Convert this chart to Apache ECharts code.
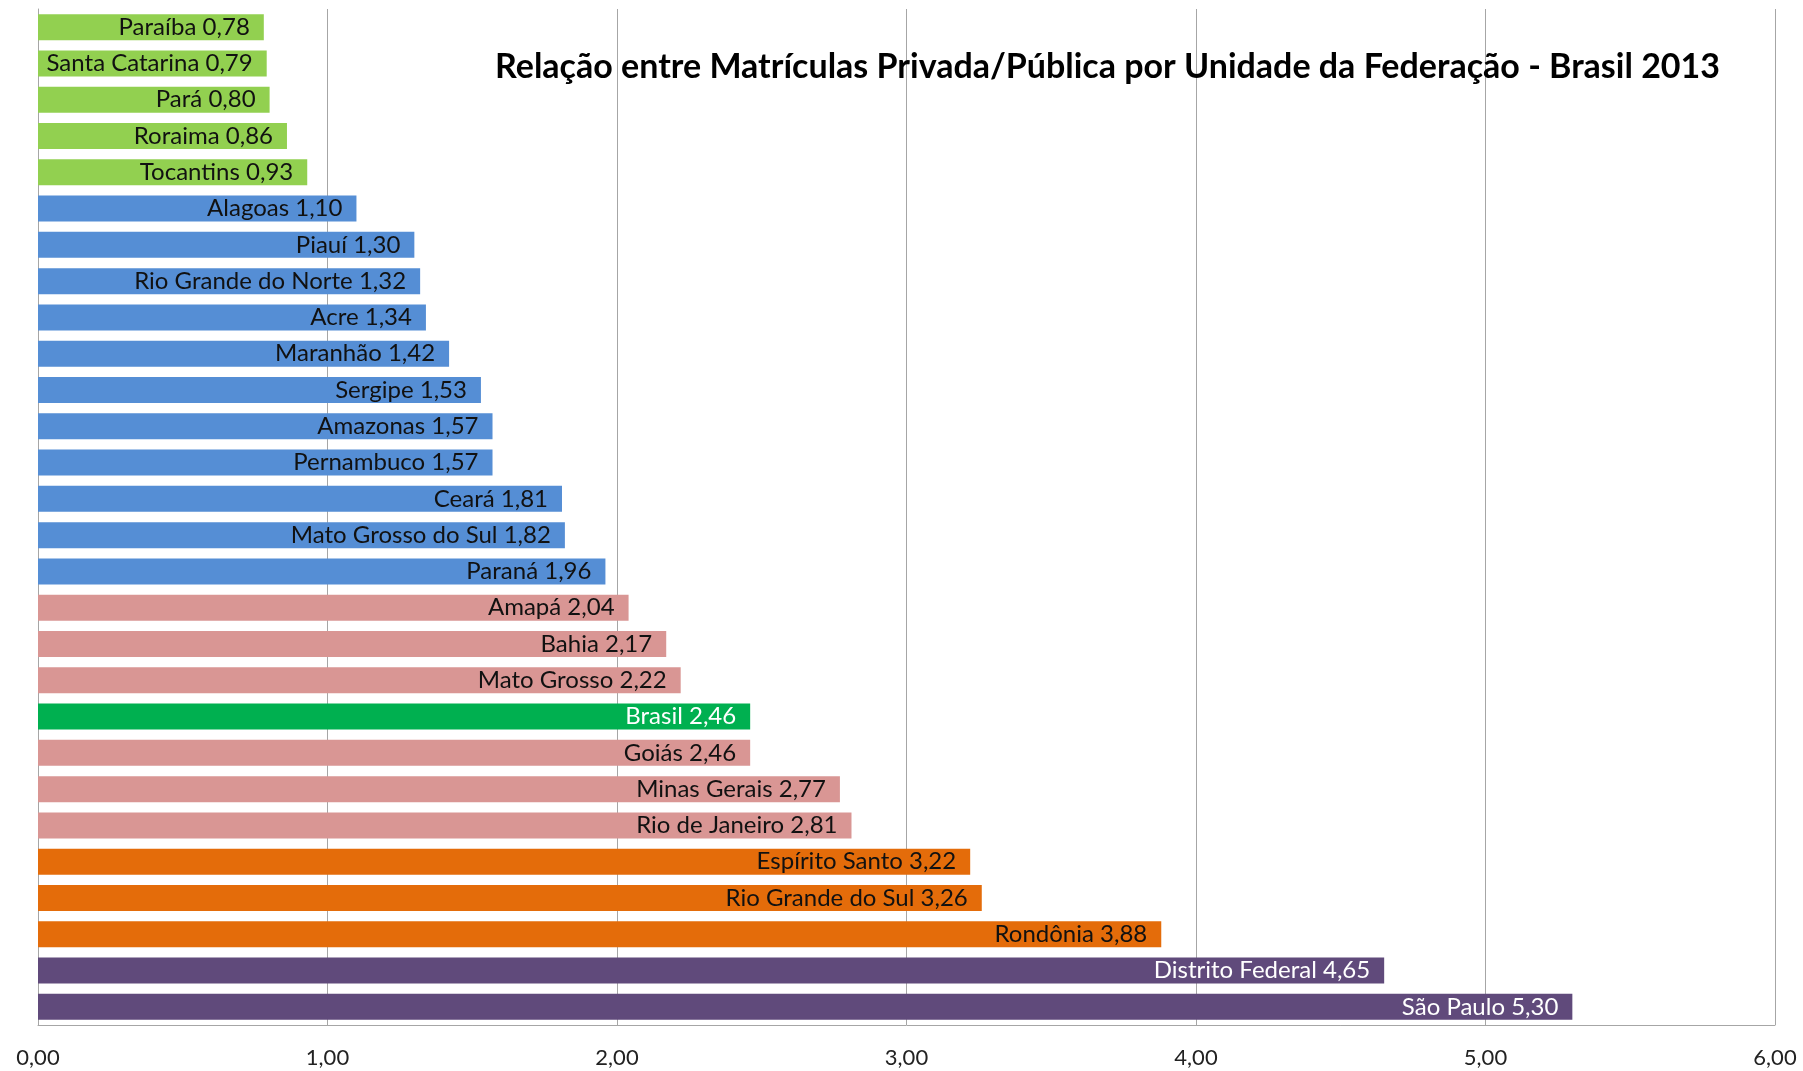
<!DOCTYPE html>
<html>
<head>
<meta charset="utf-8">
<script src="https://cdn.jsdelivr.net/npm/echarts@6/dist/echarts.min.js"></script>
<style>
  html, body { margin: 0; padding: 0; background: #fff; }
  #chart { width: 1803px; height: 1071px; }
</style>
</head>
<body>
<div id="chart"></div>
<script>
// estados, de cima para baixo
const estados = ['Paraíba', 'Santa Catarina', 'Pará', 'Roraima', 'Tocantins', 'Alagoas', 'Piauí',
  'Rio Grande do Norte', 'Acre', 'Maranhão', 'Sergipe', 'Amazonas', 'Pernambuco', 'Ceará',
  'Mato Grosso do Sul', 'Paraná', 'Amapá', 'Bahia', 'Mato Grosso', 'Brasil', 'Goiás',
  'Minas Gerais', 'Rio de Janeiro', 'Espírito Santo', 'Rio Grande do Sul', 'Rondônia',
  'Distrito Federal', 'São Paulo'];
const relacao = [0.78, 0.79, 0.80, 0.86, 0.93, 1.10, 1.30, 1.32, 1.34, 1.42, 1.53, 1.57, 1.57, 1.81,
  1.82, 1.96, 2.04, 2.17, 2.22, 2.46, 2.46, 2.77, 2.81, 3.22, 3.26, 3.88, 4.65, 5.30];
// faixa de cada barra
const faixas = ['f1', 'f1', 'f1', 'f1', 'f1', 'f2', 'f2', 'f2', 'f2', 'f2', 'f2', 'f2', 'f2', 'f2',
  'f2', 'f2', 'f3', 'f3', 'f3', 'br', 'f3', 'f3', 'f3', 'f4', 'f4', 'f4', 'f5', 'f5'];
const eixoX = [0, 1, 2, 3, 4, 5, 6];

const cores = { f1: '#92D050', f2: '#558ED5', f3: '#D99694', br: '#00B050', f4: '#E46C0A', f5: '#604A7B' };
const corTexto = { f1: '#111', f2: '#111', f3: '#111', br: '#fff', f4: '#111', f5: '#fff' };
const fonte = 'Lato, "Open Sans", sans-serif';

const fmt = v => v.toFixed(2).replace('.', ',');

let option = {
  animation: false,
  title: {
    text: 'Relação entre Matrículas Privada/Pública por Unidade da Federação - Brasil 2013',
    left: 490,
    top: 45,
    textStyle: { fontFamily: fonte, fontSize: 34, fontWeight: 'bold', color: '#000' }
  },
  grid: { left: 38, right: 28, top: 9, bottom: 46 },
  xAxis: {
    type: 'value',
    min: eixoX[0],
    max: eixoX[eixoX.length - 1],
    interval: 1,
    axisLine: { show: true, lineStyle: { color: '#A6A6A6' } },
    axisTick: { show: false },
    splitLine: { lineStyle: { color: '#A6A6A6', width: 1 } },
    axisLabel: { formatter: v => fmt(v), fontFamily: fonte, fontSize: 22, color: '#222', margin: 22 }
  },
  yAxis: {
    type: 'category',
    data: estados,
    inverse: true,
    axisLine: { show: true, lineStyle: { color: '#A6A6A6' } },
    axisTick: { show: false },
    axisLabel: { show: false }
  },
  series: [{
    type: 'bar',
    barWidth: 26,
    data: relacao.map((v, i) => ({
      value: v,
      itemStyle: { color: cores[faixas[i]] },
      label: { color: corTexto[faixas[i]] }
    })),
    label: {
      show: true,
      position: 'insideRight',
      distance: 14,
      fontFamily: fonte,
      fontSize: 24,
      formatter: p => estados[p.dataIndex] + ' ' + fmt(p.value)
    }
  }]
};

let myChart = echarts.init(document.getElementById('chart'));
myChart.setOption(option);
</script>
</body>
</html>
